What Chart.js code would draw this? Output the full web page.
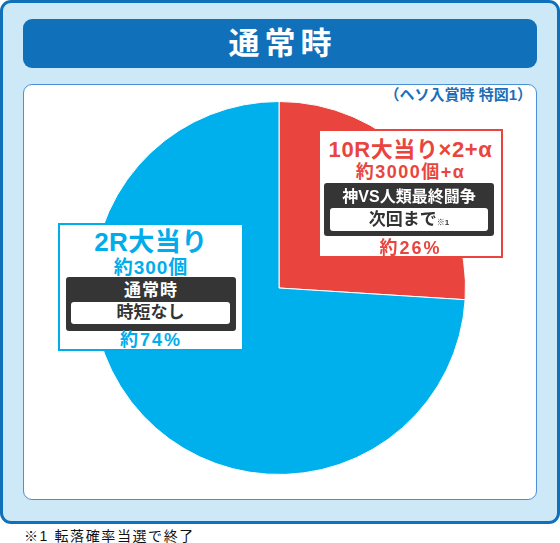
<!DOCTYPE html>
<html lang="ja">
<head>
<meta charset="utf-8">
<title>通常時</title>
<script src="https://cdn.jsdelivr.net/npm/chart.js@4.4.1/dist/chart.umd.min.js"></script>
<style>
  html, body { margin: 0; padding: 0; background: #fff; }
  body { width: 560px; height: 543px; position: relative; overflow: hidden;
         font-family: "Liberation Sans", "Noto Sans CJK JP", sans-serif; font-weight: 700; }
  .abs { position: absolute; }
  #outer { left: 0; top: 0; width: 554px; height: 518px; background: #cde9f8;
           border: 3px solid #1170ba; border-radius: 11px; }
  #titlebar { left: 23px; top: 19px; width: 514px; height: 49px; background: #1170ba;
              border-radius: 9px; color: #fff; font-size: 31px; line-height: 49px;
              text-align: center; letter-spacing: 5px; text-indent: 5px; }
  #panel { left: 23px; top: 84px; width: 512px; height: 414px; background: #fff;
           border: 1px solid #4b8fd6; border-radius: 9px; }
  #subtitle { right: 28px; top: 85px; color: #1c6fb7; font-size: 15px; line-height: 20px; }
  #chartWrap { left: 92px; top: 101px; width: 374px; height: 374px; }
  .box { background: #fff; box-sizing: border-box; text-align: center; }
  .dark { position: absolute; background: #353535; border-radius: 3px; color: #fff; box-sizing: border-box; }
  .inner { position: absolute; background: #fff; border-radius: 3px; color: #333; }
  .line { position: absolute; left: 0; right: 0; white-space: nowrap; }
  #footer { left: 24px; top: 527px; font-size: 14px; line-height: 18px; color: #111;
            font-weight: 400; letter-spacing: 1.6px; }
</style>
</head>
<body>
<div id="outer" class="abs"></div>
<div id="titlebar" class="abs">通常時</div>
<div id="panel" class="abs"></div>
<div id="subtitle" class="abs">（ヘソ入賞時 特図1）</div>
<div id="chartWrap" class="abs"><canvas id="pieChart" width="374" height="374"></canvas></div>

<!-- 10R側ラベル -->
<div id="redBox" class="abs box" style="left:318px;top:129px;width:185px;height:129px;border:2px solid #e9453e;color:#e9453e;">
  <div class="line" style="top:6px;font-size:22px;line-height:26px;letter-spacing:0.6px;">10R大当り×2+α</div>
  <div class="line" style="top:31px;font-size:18px;line-height:21px;letter-spacing:1.5px;">約3000個+α</div>
  <div class="dark" style="left:4px;top:52px;width:170px;height:53px;">
    <div class="line" style="top:4px;font-size:16px;line-height:19px;">神VS人類最終闘争</div>
    <div class="inner" style="left:6px;top:25px;width:158px;height:23px;">
      <div class="line" style="top:1px;font-size:17px;line-height:21px;">次回まで<span style="font-size:8px;">※1</span></div>
    </div>
  </div>
  <div class="line" style="top:107px;font-size:18px;line-height:21px;letter-spacing:2px;">約26%</div>
</div>

<!-- 2R側ラベル -->
<div id="blueBox" class="abs box" style="left:58px;top:223px;width:186px;height:128px;border:2px solid #00adeb;color:#00adeb;">
  <div class="line" style="top:3px;font-size:26px;line-height:28px;letter-spacing:0.5px;">2R大当り</div>
  <div class="line" style="top:32px;font-size:19px;line-height:21px;letter-spacing:1px;">約300個</div>
  <div class="dark" style="left:6px;top:52px;width:170px;height:54px;">
    <div class="line" style="top:4px;font-size:17px;line-height:19px;letter-spacing:1px;">通常時</div>
    <div class="inner" style="left:5px;top:25px;width:159px;height:22px;">
      <div class="line" style="top:0px;font-size:17px;line-height:22px;">時短なし</div>
    </div>
  </div>
  <div class="line" style="top:105px;font-size:18px;line-height:21px;letter-spacing:2px;">約74%</div>
</div>

<div id="footer" class="abs">※1 転落確率当選で終了</div>

<script>
// 振り分けデータ
const categories = ['10R大当り×2+α', '2R大当り'];
const shares = [26, 74];
const sliceColors = ['#e9453e', '#00b0ec'];

const ctx = document.getElementById('pieChart').getContext('2d');

const pieChart = new Chart(ctx, {
    type: 'pie',
    data: {
        labels: categories,
        datasets: [{
            data: shares,
            backgroundColor: sliceColors,
            borderColor: '#ffffff',
            borderWidth: 1,
        }],
    },
    options: {
        responsive: false,
        animation: false,
        layout: { padding: 0 },
        plugins: {
            legend: { display: false },
            tooltip: { enabled: false },
        },
    },
});
</script>
</body>
</html>
